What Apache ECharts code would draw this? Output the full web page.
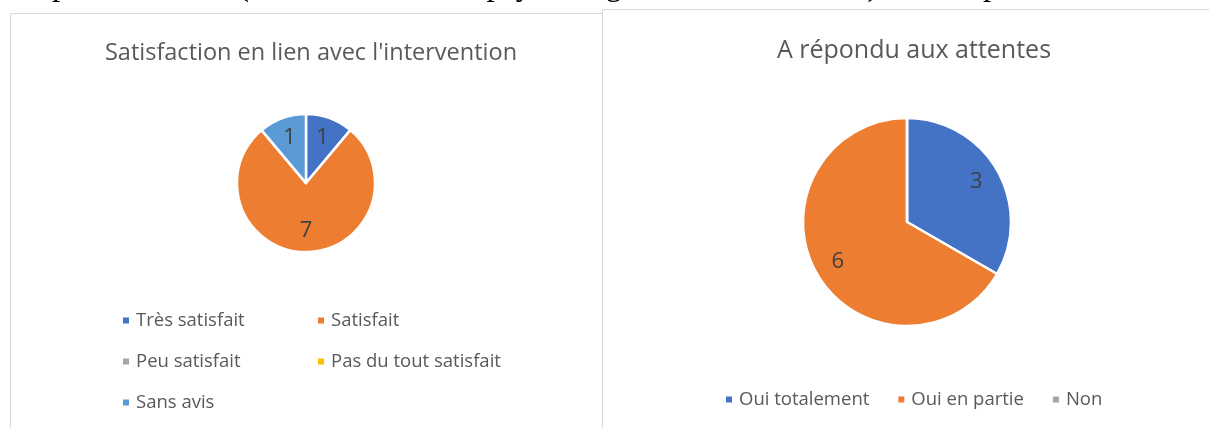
<!DOCTYPE html>
<html>
<head>
<meta charset="utf-8">
<script src="https://cdn.jsdelivr.net/npm/echarts@6/dist/echarts.min.js"></script>
<style>
  html, body { margin: 0; padding: 0; background: #fff; }
  #chart { width: 1209px; height: 428px; }
</style>
</head>
<body>
<div id="chart"></div>
<script>
// données du graphique de gauche
const satisfactionCategories = ["Très satisfait", "Satisfait", "Peu satisfait", "Pas du tout satisfait", "Sans avis"];
const satisfactionValues = [1, 7, 0, 0, 1];
const satisfactionColors = ["#4472C4", "#ED7D31", "#A5A5A5", "#FFC000", "#5B9BD5"];

// données du graphique de droite
const attentesCategories = ["Oui totalement", "Oui en partie", "Non"];
const attentesValues = [3, 6, 0];
const attentesColors = ["#4472C4", "#ED7D31", "#A5A5A5"];

const topText = "le professionnel (travailleur social, psychologue, chef de service) étaient présents";

const font = "'Open Sans', 'Noto Sans', sans-serif";

const toData = (cats, vals, colors) =>
    cats.map((c, i) => ({ name: c, value: vals[i], itemStyle: { color: colors[i] } }));

// pie visible
const piePart = (data, center, radius) => ({
    type: "pie",
    center: center,
    radius: radius,
    startAngle: 90,
    clockwise: true,
    avoidLabelOverlap: false,
    label: { show: false },
    labelLine: { show: false },
    emphasis: { scale: false },
    itemStyle: { borderColor: "#fff", borderWidth: 2.5 },
    data: data,
});

// série transparente juste pour placer les étiquettes plus loin du centre (comme Excel)
const labelPart = (data, center, radius) => ({
    type: "pie",
    center: center,
    radius: radius,
    startAngle: 90,
    clockwise: true,
    silent: true,
    legendHoverLink: false,
    avoidLabelOverlap: false,
    label: {
        show: true,
        position: "inside",
        fontFamily: font,
        fontSize: 22,
        color: "#404040",
        formatter: (p) => (p.value ? String(p.value) : ""),
    },
    labelLine: { show: false },
    itemStyle: { color: "rgba(0,0,0,0)", borderWidth: 0 },
    data: data.map((d) => ({ name: d.name, value: d.value })),
});

const chart = echarts.init(document.getElementById("chart"));

const leftData = toData(satisfactionCategories, satisfactionValues, satisfactionColors);
const rightData = toData(attentesCategories, attentesValues, attentesColors);

const legendBase = {
    icon: "rect",
    itemWidth: 8,
    itemHeight: 8,
    itemGap: 20,
    selectedMode: false,
    textStyle: { fontFamily: font, fontSize: 18.5, color: "#595959", lineHeight: 21, padding: [0, 0, 0, 1] },
};

chart.setOption({
    animation: false,
    title: [
        {
            text: "Satisfaction en lien avec l'intervention",
            left: 306, top: 36, textAlign: "center",
            textStyle: { fontFamily: font, fontSize: 23.5, fontWeight: "normal", color: "#595959" },
        },
        {
            text: "A répondu aux attentes",
            left: 909, top: 33, textAlign: "center",
            textStyle: { fontFamily: font, fontSize: 25, fontWeight: "normal", color: "#595959" },
        },
    ],
    legend: [
        Object.assign({}, legendBase, {
            orient: "vertical", left: 116, top: 305,
            data: [satisfactionCategories[0], satisfactionCategories[2], satisfactionCategories[4]],
        }),
        Object.assign({}, legendBase, {
            orient: "vertical", left: 311, top: 305,
            data: [satisfactionCategories[1], satisfactionCategories[3]],
        }),
        Object.assign({}, legendBase, {
            orient: "horizontal", left: 719, top: 384, itemGap: 27,
            data: attentesCategories,
        }),
    ],
    graphic: [
        { type: "rect", shape: { x: 10.5, y: 13.5, width: 592, height: 430 }, style: { fill: "#fff", stroke: "#d9d9d9", lineWidth: 1 }, silent: true, z: -10 },
        { type: "rect", shape: { x: 602.5, y: 9.5, width: 620, height: 430 }, style: { fill: "#fff", stroke: "#d9d9d9", lineWidth: 1 }, silent: true, z: -10 },
        {
            type: "text", left: 20, top: -30, silent: true,
            style: { text: topText, font: "33px 'Liberation Serif', serif", fill: "#000" },
        },
    ],
    series: [
        piePart(leftData, [306, 183], [0, 69]),
        piePart(rightData, [907, 222], [0, 104]),
        labelPart(leftData, [306, 183], [0, 90]),
        labelPart(rightData, [907, 222], [0, 154]),
    ],
});
</script>
</body>
</html>
